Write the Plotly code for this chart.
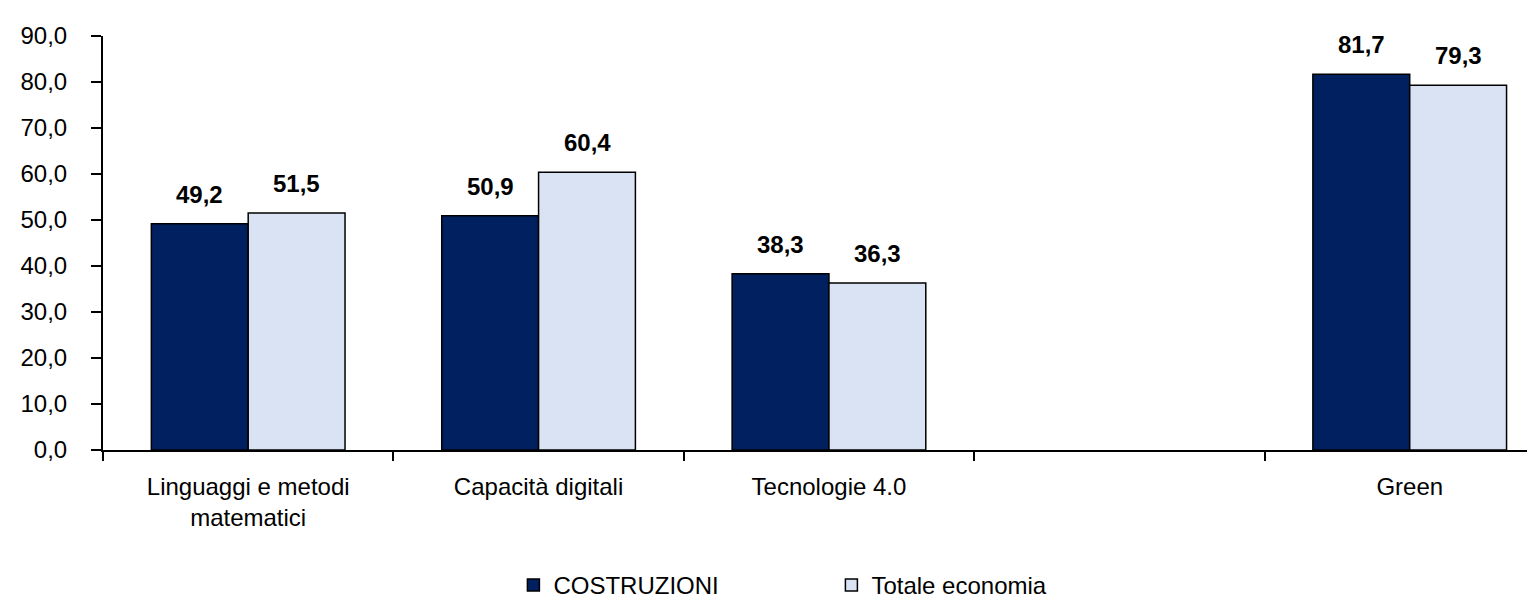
import plotly.graph_objects as go

categories = ["Linguaggi e metodi<br>matematici", "Capacità digitali", "Tecnologie 4.0", " ", "Green"]
costruzioni = [49.2, 50.9, 38.3, None, 81.7]
totale = [51.5, 60.4, 36.3, None, 79.3]

FONT = "Liberation Sans, Arial, sans-serif"

fig = go.Figure()
fig.add_trace(go.Bar(
    x=categories, y=costruzioni, name="COSTRUZIONI",
    marker=dict(color="#002060", line=dict(color="black", width=1.5)),
))
fig.add_trace(go.Bar(
    x=categories, y=totale, name="Totale economia",
    marker=dict(color="#DAE3F3", line=dict(color="black", width=1.5)),
))

# value labels sit well above the bars, so use annotations
for serie, shift in ((costruzioni, -48.5), (totale, 48.5)):
    for cat, val in zip(categories, serie):
        if val is None:
            continue
        fig.add_annotation(
            x=cat, y=val, xshift=shift, yshift=14, yanchor="bottom",
            text="<b>" + f"{val:.1f}".replace(".", ",") + "</b>",
            showarrow=False, font=dict(size=24, color="black", family=FONT),
        )

fig.update_layout(
    width=1535, height=600,
    margin=dict(l=95, r=0, t=28, b=150),
    paper_bgcolor="white", plot_bgcolor="white",
    barmode="group", bargap=0.333, bargroupgap=0,
    separators=",.",
    font=dict(family=FONT, size=24, color="black"),
    showlegend=True,
    legend=dict(orientation="h", x=0.285, xanchor="left", y=-0.327, yanchor="middle",
                font=dict(size=24), entrywidth=273, itemwidth=30),
)
fig.update_xaxes(
    range=[-0.5, 4.459], showline=True, linecolor="black", linewidth=2,
    ticks="outside", tickson="boundaries", ticklen=9, tickcolor="black", tickwidth=1.5,
    showgrid=False, tickfont=dict(size=24), fixedrange=True, automargin=False,
    ticklabelstandoff=14,
)
fig.update_yaxes(
    range=[0, 90], dtick=10, tickformat=".1f", showline=True, linecolor="black", linewidth=2,
    ticks="outside", ticklen=10, tickcolor="black", tickwidth=1.5,
    showgrid=False, zeroline=False, tickfont=dict(size=24), automargin=False,
    ticklabelstandoff=19,
)

fig.write_html("out.html")
